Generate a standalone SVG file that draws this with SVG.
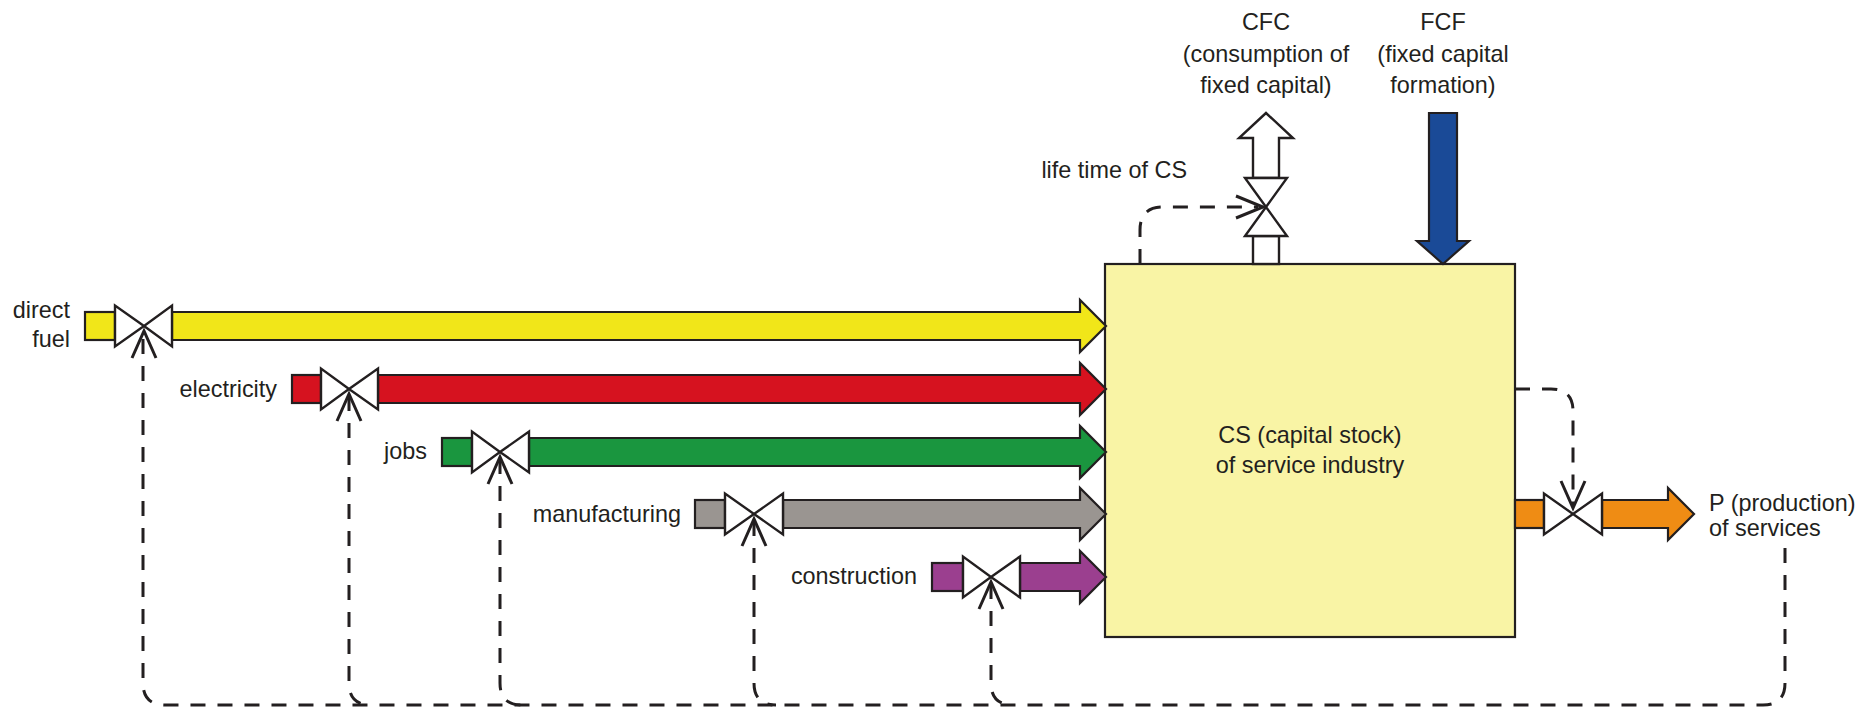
<svg xmlns="http://www.w3.org/2000/svg" width="1874" height="711" viewBox="0 0 1874 711">
<style>
text{font-family:"Liberation Sans",Arial,sans-serif;font-size:23.4px;fill:#231f20}
.flow{stroke:#231f20;stroke-width:2.2;stroke-linejoin:miter}
.valve{fill:#fff;stroke:#231f20;stroke-width:2.4;stroke-linejoin:miter}
.dash{fill:none;stroke:#231f20;stroke-width:3;stroke-dasharray:15 12}
.ah{fill:none;stroke:#231f20;stroke-width:3;stroke-linecap:butt;stroke-linejoin:miter}
.yel{fill:#f1e619}.red{fill:#d6121f}.grn{fill:#1a963f}.gry{fill:#9a9591}.pur{fill:#9b3f8f}.org{fill:#ef8c14}
</style>
<rect width="1874" height="711" fill="#fff"/>

<g id="capital_stock">
<rect x="1105" y="264" width="410" height="373" fill="#f9f4a5" stroke="#231f20" stroke-width="2.2"/>
<text x="1310" y="443" text-anchor="middle">CS (capital stock)</text>
<text x="1310" y="473" text-anchor="middle">of service industry</text>
</g>

<g id="direct_fuel">
<text x="70" y="318" text-anchor="end">direct</text>
<text x="70" y="347" text-anchor="end">fuel</text>
<rect class="flow yel" x="85" y="312" width="30" height="28"/>
<polygon class="flow yel" points="172,312 1080,312 1080,300 1106,326 1080,352 1080,340 172,340"/>
<polygon class="valve" points="115,305.5 115,346.5 144,326 172,305.5 172,346.5 144,326"/>
</g>

<g id="electricity">
<text x="277" y="397" text-anchor="end">electricity</text>
<rect class="flow red" x="292" y="375" width="29" height="28"/>
<polygon class="flow red" points="378,375 1080,375 1080,363 1106,389 1080,415 1080,403 378,403"/>
<polygon class="valve" points="321,368.5 321,409.5 349,389 378,368.5 378,409.5 349,389"/>
</g>

<g id="jobs">
<text x="427" y="459" text-anchor="end">jobs</text>
<rect class="flow grn" x="442" y="438" width="30" height="28"/>
<polygon class="flow grn" points="529,438 1080,438 1080,426 1106,452 1080,478 1080,466 529,466"/>
<polygon class="valve" points="472,431.5 472,472.5 500,452 529,431.5 529,472.5 500,452"/>
</g>

<g id="manufacturing">
<text x="681" y="522" text-anchor="end">manufacturing</text>
<rect class="flow gry" x="695" y="500" width="30" height="28"/>
<polygon class="flow gry" points="783,500 1080,500 1080,488 1106,514 1080,540 1080,528 783,528"/>
<polygon class="valve" points="725,493.5 725,534.5 754,514 783,493.5 783,534.5 754,514"/>
</g>

<g id="construction">
<text x="917" y="584" text-anchor="end">construction</text>
<rect class="flow pur" x="932" y="563" width="31" height="28"/>
<polygon class="flow pur" points="1020,563 1080,563 1080,551 1106,577 1080,603 1080,591 1020,591"/>
<polygon class="valve" points="963,556.5 963,597.5 991,577 1020,556.5 1020,597.5 991,577"/>
</g>

<g id="production">
<rect class="flow org" x="1515" y="500" width="29" height="28"/>
<polygon class="flow org" points="1602,500 1668,500 1668,488 1694,514 1668,540 1668,528 1602,528"/>
<polygon class="valve" points="1544,493.5 1544,534.5 1573,514 1602,493.5 1602,534.5 1573,514"/>
<text x="1709" y="511">P (production)</text>
<text x="1709" y="536">of services</text>
</g>

<g id="cfc">
<text x="1266" y="30" text-anchor="middle">CFC</text>
<text x="1266" y="62" text-anchor="middle">(consumption of</text>
<text x="1266" y="93" text-anchor="middle">fixed capital)</text>
<rect class="valve" x="1253" y="236" width="26" height="28"/>
<polygon class="valve" points="1253,178 1253,138 1239,138 1266,113 1293,138 1279,138 1279,178"/>
<polygon class="valve" points="1245,178 1287,178 1266,207 1245,236 1287,236 1266,207"/>
<text x="1187" y="178" text-anchor="end">life time of CS</text>
</g>

<g id="fcf">
<text x="1443" y="30" text-anchor="middle">FCF</text>
<text x="1443" y="62" text-anchor="middle">(fixed capital</text>
<text x="1443" y="93" text-anchor="middle">formation)</text>
<polygon points="1429,113 1457,113 1457,241 1469,241 1443,264 1417,241 1429,241" fill="#1a4a97" stroke="#231f20" stroke-width="2.2"/>
</g>

<g id="connectors">
<path class="dash" d="M1140,264 V230 Q1140,207 1163,207 H1258"/>
<polyline class="ah" points="1236,196 1263,207 1236,218"/>
<path class="dash" d="M1515,389 H1551 Q1573,389 1573,411 V506"/>
<polyline class="ah" points="1561,481 1573,508 1585,481"/>
<path class="dash" d="M1785,548 V683 Q1785,705 1763,705 H165 Q143,705 143,683 V334"/>
<polyline class="ah" points="132,358 144,331 156,358"/>
<path class="dash" d="M349,396 V683 Q349,705 371,705"/>
<polyline class="ah" points="337,421 349,394 361,421"/>
<path class="dash" d="M500,459 V683 Q500,705 522,705"/>
<polyline class="ah" points="488,484 500,457 512,484"/>
<path class="dash" d="M754,521 V683 Q754,705 776,705"/>
<polyline class="ah" points="742,546 754,519 766,546"/>
<path class="dash" d="M991,584 V683 Q991,705 1013,705"/>
<polyline class="ah" points="979,609 991,582 1003,609"/>
</g>
</svg>
